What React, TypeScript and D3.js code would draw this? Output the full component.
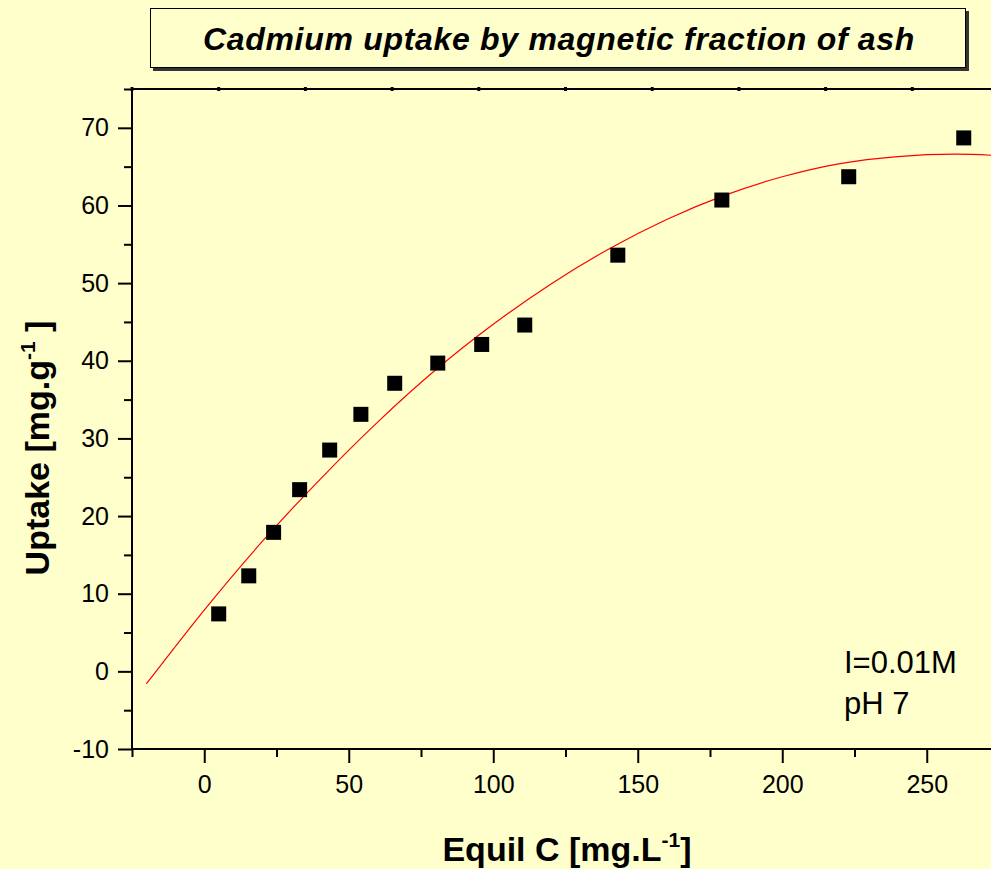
import React, { useEffect, useRef } from 'react';
import * as d3 from 'd3';

// measured points: equilibrium concentration vs uptake
const equilC = [5, 15.4, 24, 33, 43.4, 54.2, 65.9, 80.8, 96, 110.9, 143.1, 179.1, 223, 262.8];
const uptake = [7.4, 12.3, 17.9, 23.4, 28.5, 33.1, 37.1, 39.7, 42.1, 44.6, 53.6, 60.7, 63.7, 68.7];

// fitted curve
const fitC = [-20, 0, 20, 40, 60, 80, 100, 120, 140, 160, 180, 200, 220, 240, 260, 280, 300];
const fitU = [-1.6, 7.9, 16.7, 24.7, 32.1, 38.8, 44.7, 49.9, 54.4, 58.2, 61.3, 63.7, 65.4, 66.3, 66.6, 66.3, 65.6];

const xMajor = [0, 50, 100, 150, 200, 250];
const xMinor = [-25, 25, 75, 125, 175, 225, 275];
const xTop = [-25, 5, 35, 65, 95, 125, 155, 185, 215, 245, 275];
const yMajor = [-10, 0, 10, 20, 30, 40, 50, 60, 70];
const yMinor = [-5, 5, 15, 25, 35, 45, 55, 65, 75];

const W = 991;
const H = 869;
const BG = '#FFFFCC';
const FONT = '"Liberation Sans", Arial, sans-serif';

export default function App() {
  const svgRef = useRef<SVGSVGElement>(null);

  useEffect(() => {
    if (!svgRef.current) return;
    const svg = d3.select(svgRef.current);
    svg.selectAll('*').remove();

    const left = 132, top = 89, bottom = 749;
    const x = d3.scaleLinear().domain([-25, 300]).range([left, left + 325 * 2.89]);
    const y = d3.scaleLinear().domain([-10, 75]).range([bottom, top]);

    svg.append('rect').attr('width', W).attr('height', H).attr('fill', BG);

    // title box with shadow
    svg.append('rect').attr('x', 153).attr('y', 11).attr('width', 816).attr('height', 60).attr('fill', '#333');
    svg.append('rect').attr('x', 150.5).attr('y', 8.5).attr('width', 815).attr('height', 59)
      .attr('fill', BG).attr('stroke', '#000').attr('stroke-width', 1);
    svg.append('text')
      .attr('x', 559).attr('y', 50)
      .attr('text-anchor', 'middle')
      .attr('font-family', FONT).attr('font-size', 32).attr('font-weight', 'bold').attr('font-style', 'italic')
      .attr('letter-spacing', 0.7)
      .text('Cadmium uptake by magnetic fraction of ash');

    // fit line
    const line = d3.line<number>()
      .x((_, i) => x(fitC[i]))
      .y(d => y(d))
      .curve(d3.curveMonotoneX);
    svg.append('path').datum(fitU).attr('d', line).attr('fill', 'none').attr('stroke', '#FF0000').attr('stroke-width', 1.2);

    // points
    svg.append('g').selectAll('rect')
      .data(uptake)
      .join('rect')
      .attr('x', (_, i) => x(equilC[i]) - 7.5)
      .attr('y', d => y(d) - 7.5)
      .attr('width', 15).attr('height', 15)
      .attr('fill', '#000');

    // axes
    const styleAxis = (g: d3.Selection<SVGGElement, unknown, null, undefined>) => {
      g.select('.domain').remove();
      g.selectAll('.tick line').attr('stroke', '#000').attr('stroke-width', 2);
      g.selectAll('.tick text').attr('fill', '#000').attr('font-family', FONT).attr('font-size', 25);
    };
    const fmt = (d: d3.NumberValue) => String(d);

    svg.append('g').attr('transform', `translate(0,${bottom})`)
      .call(d3.axisBottom(x).tickValues(xMajor).tickSize(14).tickPadding(12).tickFormat(fmt))
      .call(styleAxis);
    svg.append('g').attr('transform', `translate(0,${bottom})`)
      .call(d3.axisBottom(x).tickValues(xMinor).tickSize(8).tickFormat(() => ''))
      .call(styleAxis);
    svg.append('g').attr('transform', `translate(${left},0)`)
      .call(d3.axisLeft(y).tickValues(yMajor).tickSize(14).tickPadding(9).tickFormat(fmt))
      .call(styleAxis);
    svg.append('g').attr('transform', `translate(${left},0)`)
      .call(d3.axisLeft(y).tickValues(yMinor).tickSize(8).tickFormat(() => ''))
      .call(styleAxis);

    // top axis with tiny ticks
    svg.append('g').selectAll('line')
      .data(xTop)
      .join('line')
      .attr('x1', d => x(d)).attr('x2', d => x(d))
      .attr('y1', top - 2).attr('y2', top + 2)
      .attr('stroke', '#000').attr('stroke-width', 3);

    svg.append('line').attr('x1', left).attr('x2', W).attr('y1', top).attr('y2', top).attr('stroke', '#000').attr('stroke-width', 2);
    svg.append('line').attr('x1', left).attr('x2', W).attr('y1', bottom).attr('y2', bottom).attr('stroke', '#000').attr('stroke-width', 2);
    svg.append('line').attr('x1', left).attr('x2', left).attr('y1', top - 1).attr('y2', bottom + 1).attr('stroke', '#000').attr('stroke-width', 2);

    // axis titles
    const xt = svg.append('text').attr('x', 567).attr('y', 861).attr('text-anchor', 'middle')
      .attr('font-family', FONT).attr('font-size', 34).attr('font-weight', 'bold');
    xt.append('tspan').text('Equil C [mg.L');
    xt.append('tspan').attr('dy', -14).attr('font-size', 21).text('-1');
    xt.append('tspan').attr('dy', 14).text(']');

    const yt = svg.append('text').attr('transform', 'translate(49,448) rotate(-90)').attr('text-anchor', 'middle')
      .attr('font-family', FONT).attr('font-size', 34).attr('font-weight', 'bold');
    yt.append('tspan').text('Uptake [mg.g');
    yt.append('tspan').attr('dy', -14).attr('font-size', 21).text('-1');
    yt.append('tspan').attr('dy', 14).text(' ]');

    // annotation
    const note = svg.append('g').attr('font-family', FONT).attr('font-size', 31).attr('fill', '#000');
    note.append('text').attr('x', 844).attr('y', 673).text('I=0.01M');
    note.append('text').attr('x', 844).attr('y', 714).text('pH 7');
  }, []);

  return (
    <div style={{ position: 'absolute', left: 0, top: 0, width: W, height: H, overflow: 'hidden' }}>
      <svg ref={svgRef} width={W} height={H} style={{ display: 'block' }} />
    </div>
  );
}
